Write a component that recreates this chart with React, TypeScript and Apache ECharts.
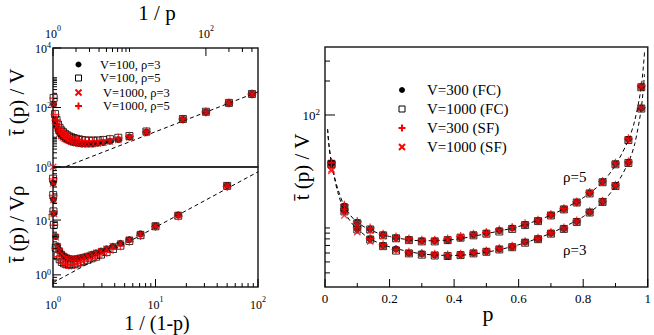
import React, { useEffect, useRef } from 'react';
import * as echarts from 'echarts';

// ---------- data ----------
// left panels: p grid, t/V values
const P_LEFT = [0.0025, 0.005, 0.01, 0.02, 0.06, 0.10, 0.14, 0.18, 0.22, 0.26, 0.30, 0.34, 0.38, 0.42, 0.46, 0.50, 0.54, 0.58, 0.62, 0.66, 0.70, 0.74, 0.78, 0.82, 0.86, 0.90, 0.94, 0.98];
const V100_R3 = [283, 142, 71, 40, 15.0, 10.2, 8.4, 7.3, 6.7, 6.3, 6.0, 5.9, 5.9, 6.0, 6.2, 6.4, 6.7, 7.1, 7.6, 8.2, 9.0, 10.0, 11.3, 13.3, 16.8, 23.5, 37, 128];
const V100_R5 = [285, 143, 72, 41, 15.6, 11.0, 9.6, 8.6, 8.1, 7.8, 7.7, 7.7, 7.8, 8.1, 8.5, 8.9, 9.4, 10.0, 10.7, 11.7, 13.0, 14.8, 17.0, 20.7, 26.5, 38.5, 60, 210];
const V1000_R3 = [280, 140, 70, 39, 14.6, 9.9, 8.2, 7.2, 6.6, 6.2, 5.95, 5.85, 5.85, 5.95, 6.15, 6.35, 6.65, 7.05, 7.55, 8.15, 8.9, 9.9, 11.2, 13.2, 16.6, 23.2, 36.5, 125];
const V1000_R5 = [282, 141, 71, 40.5, 15.3, 10.8, 9.5, 8.5, 8.0, 7.7, 7.6, 7.6, 7.7, 8.0, 8.4, 8.8, 9.3, 9.9, 10.6, 11.6, 12.9, 14.7, 16.9, 20.5, 26.2, 38, 59, 205];
const RHO = [3, 5];
const LINE_TOP = [[1, 0.7], [480, 336]];
const LINE_BOTTOM = [[1, 0.72], [100, 76]];

// right panel
const P_RIGHT = [0.02, 0.06, 0.10, 0.14, 0.18, 0.22, 0.26, 0.30, 0.34, 0.38, 0.42, 0.46, 0.50, 0.54, 0.58, 0.62, 0.66, 0.70, 0.74, 0.78, 0.82, 0.86, 0.90, 0.94, 0.98];
const FC300_R5 = [37.6, 15.6, 11.2, 9.8, 8.7, 8.2, 7.9, 7.7, 7.7, 7.8, 8.2, 8.7, 9.0, 9.5, 10.0, 10.7, 11.6, 13.0, 14.7, 16.9, 20.4, 25.6, 37.0, 61, 178];
const FC1000_R5 = [37.0, 15.2, 11.0, 9.7, 8.6, 8.1, 7.8, 7.6, 7.6, 7.8, 8.2, 8.6, 8.9, 9.3, 9.8, 10.6, 11.5, 12.9, 14.6, 16.8, 20.2, 25.4, 36.6, 60, 176];
const SF300_R5 = [38.0, 15.9, 11.4, 10.0, 8.8, 8.3, 8.0, 7.8, 7.8, 8.0, 8.4, 8.8, 9.1, 9.6, 10.1, 10.9, 11.7, 13.1, 14.8, 17.0, 20.6, 25.8, 37.4, 61.5, 180];
const SF1000_R5 = [33.0, 14.4, 10.6, 9.5, 8.5, 8.0, 7.8, 7.6, 7.7, 7.9, 8.3, 8.7, 8.9, 9.4, 9.9, 10.7, 11.6, 12.9, 14.6, 16.8, 20.3, 25.5, 36.8, 60.5, 177];
const FC300_R3 = [37.0, 14.2, 9.8, 8.0, 7.0, 6.5, 6.0, 5.9, 5.75, 5.6, 5.8, 6.0, 6.2, 6.5, 6.8, 7.5, 8.0, 9.0, 9.9, 11.4, 13.8, 17.1, 23.7, 38.0, 115];
const FC1000_R3 = [36.4, 14.0, 9.7, 7.9, 6.9, 6.3, 5.95, 5.8, 5.7, 5.65, 5.75, 5.95, 6.15, 6.45, 6.75, 7.4, 7.95, 8.9, 9.8, 11.3, 13.7, 17.0, 23.5, 37.6, 114];
const SF300_R3 = [37.4, 14.5, 10.0, 8.1, 7.1, 6.45, 6.1, 5.95, 5.85, 5.75, 5.85, 6.05, 6.25, 6.55, 6.9, 7.55, 8.1, 9.1, 10.0, 11.5, 13.9, 17.2, 23.9, 38.4, 116];
const SF1000_R3 = [32.0, 12.9, 9.2, 7.6, 6.9, 6.4, 6.0, 5.85, 5.8, 5.7, 5.8, 6.0, 6.2, 6.5, 6.85, 7.5, 8.0, 9.0, 9.9, 11.4, 13.8, 17.1, 23.7, 38.0, 115];
const FIT_P = [0.008, 0.012, 0.02, 0.03, 0.04, 0.06, 0.08, 0.10, 0.14, 0.20, 0.30, 0.40, 0.50, 0.60, 0.70, 0.80, 0.86, 0.90, 0.94, 0.96, 0.98, 0.99];
const FIT_R5 = [75, 55, 38, 28, 22, 15.5, 12.8, 11.2, 9.6, 8.4, 7.7, 7.9, 8.9, 10.3, 13.0, 18.5, 25.5, 36, 60, 90, 178, 360];
const FIT_R3 = [75, 55, 37, 27, 20.5, 14.0, 11.3, 9.8, 8.0, 6.8, 5.9, 5.7, 6.1, 7.1, 9.0, 12.6, 17.0, 23.5, 38, 56, 115, 230];

// ticks
const G0_Y_MAJOR = [1, 100, 10000];
const G0_Y_MINOR = [2, 3, 4, 5, 6, 7, 8, 9, 10, 200, 300, 400, 500, 600, 700, 800, 900, 1000];
const G0_X_MAJOR = [1, 100];
const G0_X_MINOR = [2, 3, 4, 5, 6, 7, 8, 9, 10, 200, 300, 400];
const G1_X_MAJOR = [1, 10, 100];
const G1_X_MINOR = [2, 3, 4, 5, 6, 7, 8, 9, 20, 30, 40, 50, 60, 70, 80, 90];
const G1_Y_MAJOR = [1, 10];
const G1_Y_MINOR = [0.7, 0.8, 0.9, 2, 3, 4, 5, 6, 7, 8, 9, 20, 30, 40, 50, 60, 70, 80, 90];
const G2_Y_MAJOR = [100];
const G2_Y_MINOR = [4, 5, 6, 7, 8, 9, 10, 200, 300];
const G2_X_MAJOR = [0, 0.2, 0.4, 0.6, 0.8, 1];
const G2_X_MINOR = [0.1, 0.3, 0.5, 0.7, 0.9];

const LEGEND_LEFT = ['V=100, \u03c1=3', 'V=100, \u03c1=5', 'V=1000, \u03c1=3', 'V=1000, \u03c1=5'];
const LEGEND_RIGHT = ['V=300 (FC)', 'V=1000 (FC)', 'V=300 (SF)', 'V=1000 (SF)'];

const FONT = 'Liberation Serif, DejaVu Serif, Times New Roman, serif';
const RED = '#ff0000';
const PLUS = 'path://M-1,-0.14H1V0.14H-1Z M-0.14,-1H0.14V1H-0.14Z';

const rich = (size: number, lh: number) => ({
  b: { fontSize: size, fontFamily: FONT, color: '#000', lineHeight: lh, verticalAlign: 'bottom' },
  s: { fontSize: Math.round(size * 0.68), fontFamily: FONT, color: '#000', lineHeight: 8, verticalAlign: 'top' },
});

function powLabel(allowed: number[]) {
  return (v: number) => {
    const e = Math.round(Math.log10(v));
    if (Math.abs(v / Math.pow(10, e) - 1) > 1e-6) return '';
    if (allowed.indexOf(e) < 0) return '';
    return `{b|10}{s|${e}}`;
  };
}

function tickSeries(xi: number, yi: number, points: number[][], dx: number, dy: number) {
  return {
    type: 'custom',
    xAxisIndex: xi,
    yAxisIndex: yi,
    silent: true,
    clip: false,
    z: 6,
    data: points,
    renderItem: (_p: any, api: any) => {
      const c = api.coord([api.value(0), api.value(1)]);
      return {
        type: 'line',
        shape: { x1: c[0], y1: c[1], x2: c[0] + dx, y2: c[1] + dy },
        style: { stroke: '#000', lineWidth: 1 },
      };
    },
  };
}

type Mark = 'circle' | 'square' | 'plus' | 'cross';
function markStyle(m: Mark) {
  if (m === 'circle') return { symbol: 'circle', symbolSize: 7, itemStyle: { color: '#000' } };
  if (m === 'square')
    return { symbol: 'rect', symbolSize: 7, itemStyle: { color: 'rgba(0,0,0,0)', borderColor: '#000', borderWidth: 1 } };
  if (m === 'plus') return { symbol: PLUS, symbolSize: 9, itemStyle: { color: RED } };
  return { symbol: PLUS, symbolSize: 9, symbolRotate: 45, itemStyle: { color: RED } };
}

function scatter(xi: number, yi: number, data: number[][], m: Mark, z: number) {
  return { type: 'scatter', xAxisIndex: xi, yAxisIndex: yi, data, silent: true, z, ...markStyle(m) };
}

function fitLine(xi: number, yi: number, data: number[][], smooth: boolean) {
  return {
    type: 'line',
    xAxisIndex: xi,
    yAxisIndex: yi,
    data,
    showSymbol: false,
    symbol: 'none',
    smooth: smooth ? 0.3 : false,
    silent: true,
    z: 1,
    lineStyle: { color: '#000', width: 1, type: [4, 3] },
  };
}

function legendIcon(m: Mark, cx: number, cy: number): any[] {
  if (m === 'circle') return [{ type: 'circle', shape: { cx, cy, r: 3 }, style: { fill: '#000' } }];
  if (m === 'square')
    return [{ type: 'rect', shape: { x: cx - 3, y: cy - 3, width: 6, height: 6 }, style: { fill: 'none', stroke: '#000', lineWidth: 1 } }];
  const h = 3.5;
  const st = { stroke: RED, lineWidth: 2 };
  if (m === 'plus')
    return [
      { type: 'line', shape: { x1: cx - h, y1: cy, x2: cx + h, y2: cy }, style: st },
      { type: 'line', shape: { x1: cx, y1: cy - h, x2: cx, y2: cy + h }, style: st },
    ];
  const d = 3;
  return [
    { type: 'line', shape: { x1: cx - d, y1: cy - d, x2: cx + d, y2: cy + d }, style: st },
    { type: 'line', shape: { x1: cx - d, y1: cy + d, x2: cx + d, y2: cy - d }, style: st },
  ];
}

function txt(text: string, x: number, y: number, size: number, align = 'left', rotation = 0) {
  return {
    type: 'text',
    x,
    y,
    rotation,
    style: { text, fontSize: size, fontFamily: FONT, fill: '#000', align, verticalAlign: 'middle' },
  };
}

export default function App() {
  const ref = useRef<HTMLDivElement>(null);
  useEffect(() => {
    if (!ref.current) return;
    const chart = echarts.init(ref.current, null, { renderer: 'svg' });

    const leftSets: { vals: number[]; rho: number; m: Mark }[] = [
      { vals: V100_R3, rho: RHO[0], m: 'circle' },
      { vals: V100_R5, rho: RHO[1], m: 'square' },
      { vals: V1000_R3, rho: RHO[0], m: 'cross' },
      { vals: V1000_R5, rho: RHO[1], m: 'plus' },
    ];
    const rightSets: { vals: number[]; m: Mark }[] = [
      { vals: FC300_R5, m: 'circle' },
      { vals: FC300_R3, m: 'circle' },
      { vals: FC1000_R5, m: 'square' },
      { vals: FC1000_R3, m: 'square' },
      { vals: SF1000_R5, m: 'cross' },
      { vals: SF1000_R3, m: 'cross' },
      { vals: SF300_R5, m: 'plus' },
      { vals: SF300_R3, m: 'plus' },
    ];

    const series: any[] = [];
    series.push(fitLine(0, 0, LINE_TOP, false));
    series.push(fitLine(1, 1, LINE_BOTTOM, false));
    series.push(fitLine(2, 2, FIT_P.map((p, i) => [p, FIT_R5[i]]), true));
    series.push(fitLine(2, 2, FIT_P.map((p, i) => [p, FIT_R3[i]]), true));
    leftSets.forEach((s, k) => {
      series.push(scatter(0, 0, P_LEFT.map((p, i) => [1 / p, s.vals[i]]), s.m, 2 + k));
      series.push(scatter(1, 1, P_LEFT.map((p, i) => [1 / (1 - p), s.vals[i] / s.rho]), s.m, 2 + k));
    });
    rightSets.forEach((s, k) => {
      series.push(scatter(2, 2, P_RIGHT.map((p, i) => [p, s.vals[i]]), s.m, 2 + Math.floor(k / 2)));
    });

    const MJ = 8;
    const MN = 4;
    series.push(tickSeries(0, 0, G0_Y_MAJOR.map((v) => [1, v]), MJ, 0));
    series.push(tickSeries(0, 0, G0_Y_MINOR.map((v) => [1, v]), MN, 0));
    series.push(tickSeries(0, 0, G0_X_MAJOR.map((v) => [v, 10000]), 0, MJ));
    series.push(tickSeries(0, 0, G0_X_MINOR.map((v) => [v, 10000]), 0, MN));
    series.push(tickSeries(1, 1, G1_X_MAJOR.map((v) => [v, 0.6]), 0, -MJ));
    series.push(tickSeries(1, 1, G1_X_MINOR.map((v) => [v, 0.6]), 0, -MN));
    series.push(tickSeries(1, 1, G1_Y_MAJOR.map((v) => [1, v]), MJ, 0));
    series.push(tickSeries(1, 1, G1_Y_MINOR.map((v) => [1, v]), MN, 0));
    series.push(tickSeries(2, 2, G2_Y_MAJOR.map((v) => [0, v]), 10, 0));
    series.push(tickSeries(2, 2, G2_Y_MINOR.map((v) => [0, v]), 5, 0));
    series.push(tickSeries(2, 2, G2_X_MAJOR.map((v) => [v, 3]), 0, -MJ));
    series.push(tickSeries(2, 2, G2_X_MINOR.map((v) => [v, 3]), 0, -MN));

    const leftMarks: Mark[] = ['circle', 'square', 'cross', 'plus'];
    const leftRows = [64.5, 78, 92.5, 106];
    const leftTextX = [100, 100, 103, 103];
    const rightMarks: Mark[] = ['circle', 'square', 'plus', 'cross'];
    const rightRows = [90, 109, 128, 147];

    const graphic: any[] = [];
    LEGEND_LEFT.forEach((t, i) => {
      graphic.push(...legendIcon(leftMarks[i], 78.5, leftRows[i]));
      graphic.push(txt(t, leftTextX[i], leftRows[i], 12.5));
    });
    LEGEND_RIGHT.forEach((t, i) => {
      graphic.push(...legendIcon(rightMarks[i], 402, rightRows[i]));
      graphic.push(txt(t, 427, rightRows[i], 15));
    });
    graphic.push(txt('\u03c1=5', 563, 177, 15));
    graphic.push(txt('\u03c1=3', 563, 250, 15));
    graphic.push(txt('1 / p', 157, 13, 21, 'center'));
    graphic.push(txt('1 / (1-p)', 157, 323, 20, 'center'));
    graphic.push(txt('p', 488, 313, 22, 'center'));
    graphic.push(txt('t\u0304 (p) / V', 17, 102, 21, 'center', Math.PI / 2));
    graphic.push(txt('t\u0304 (p) / V\u03c1', 17, 224, 21, 'center', Math.PI / 2));
    graphic.push(txt('t\u0304 (p) / V', 302, 167, 21, 'center', Math.PI / 2));

    const hidden = { axisLine: { show: false }, axisTick: { show: false }, splitLine: { show: false }, minorTick: { show: false } };
    const gridBase = { show: true, borderColor: '#222', borderWidth: 1.5, backgroundColor: 'transparent' };

    chart.setOption({
      animation: false,
      textStyle: { fontFamily: FONT },
      grid: [
        { ...gridBase, left: 53, top: 48, width: 205, height: 119 },
        { ...gridBase, left: 53, top: 167, width: 205, height: 120 },
        { ...gridBase, left: 325, top: 47, width: 324, height: 240 },
      ],
      xAxis: [
        { type: 'log', gridIndex: 0, position: 'top', min: 1, max: 480, ...hidden, axisLabel: { formatter: powLabel([0, 2]), rich: rich(12, 16), margin: 8 } },
        { type: 'log', gridIndex: 1, position: 'bottom', min: 1, max: 100, ...hidden, axisLabel: { formatter: powLabel([0, 1, 2]), rich: rich(12, 16), margin: 8 } },
        { type: 'value', gridIndex: 2, min: 0, max: 1, interval: 0.2, ...hidden, axisLabel: { fontSize: 13, fontFamily: FONT, color: '#000', margin: 5 } },
      ],
      yAxis: [
        { type: 'log', gridIndex: 0, min: 1, max: 10000, ...hidden, axisLabel: { formatter: powLabel([0, 2, 4]), rich: rich(12, 13), margin: 2 } },
        { type: 'log', gridIndex: 1, min: 0.6, max: 93, ...hidden, axisLabel: { formatter: powLabel([0, 1]), rich: rich(12, 13), margin: 2 } },
        { type: 'log', gridIndex: 2, min: 3, max: 400, ...hidden, axisLabel: { formatter: powLabel([2]), rich: rich(13, 15), margin: 5 } },
      ],
      series,
      graphic,
    });
    return () => chart.dispose();
  }, []);
  return <div ref={ref} style={{ position: 'fixed', left: 0, top: 0, width: 654, height: 335, background: '#fff' }} />;
}
